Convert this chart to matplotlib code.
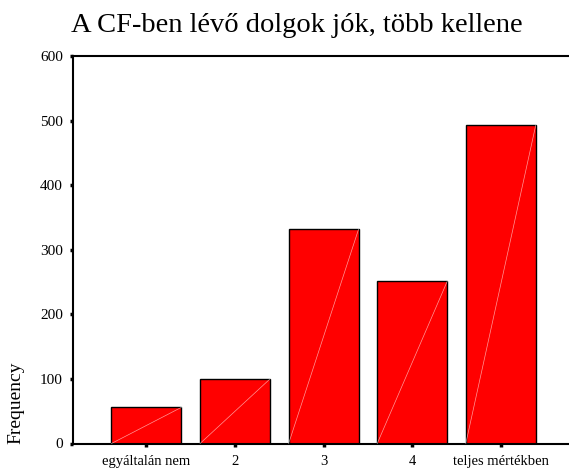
import matplotlib.pyplot as plt
import numpy as np

#%% Data
categories = ['egyáltalán nem', '2', '3', '4', 'teljes mértékben']
counts = [56, 100, 332, 251, 493]
y_ticks = [0, 100, 200, 300, 400, 500, 600]
title = 'A CF-ben lévő dolgok jók, több kellene'

#%% Plot
plt.rcParams['font.family'] = ['Liberation Serif', 'DejaVu Serif']

fig = plt.figure(figsize=(5.69, 4.70), dpi=100)
ax = fig.add_axes([72.5 / 569, 1 - 443.5 / 470, 1 - 72.5 / 569, (443.5 - 56) / 470])

x = np.arange(len(categories))
width = 0.79
ax.bar(x, counts, width=width, color='#ff0000', edgecolor='black', linewidth=1.0, zorder=2)

# thin light diagonal inside each bar
for xi, c in zip(x, counts):
    ax.plot([xi - width / 2, xi + width / 2], [0, c], color='white', lw=0.5, alpha=0.6, zorder=3)

ax.set_xlim(-0.835, 4.77)
ax.set_ylim(0, 600)
ax.set_xticks(x)
ax.set_xticklabels(categories, fontsize=10.5)
ax.set_yticks(y_ticks)
ax.set_yticklabels([str(v) for v in y_ticks], fontsize=11)
ax.tick_params(direction='out', length=2.5, width=2.5, pad=4.5)
ax.tick_params(axis='x', pad=6)

ax.spines['right'].set_visible(False)
for s in ['left', 'top', 'bottom']:
    ax.spines[s].set_linewidth(1.5)

fig.text(297 / 569, 1 - 26 / 470, title, ha='center', va='center', fontsize=20.5)
fig.text(16 / 569, 1 - 403 / 470, 'Frequency', rotation=90, ha='center', va='center', fontsize=14)

plt.savefig('out.png', dpi=100)
